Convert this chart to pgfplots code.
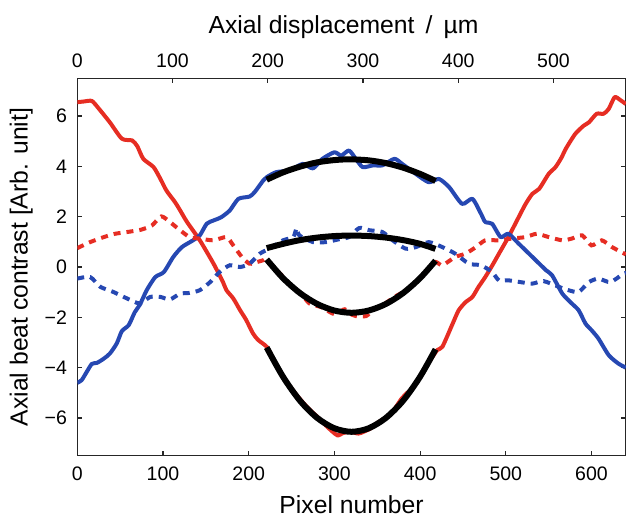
\documentclass[border=0pt]{standalone}
\usepackage{pgfplots}
\pgfplotsset{compat=1.18}
\usepackage{fontspec}
\setmainfont{Liberation Sans}
\definecolor{cred}{RGB}{230,45,35}
\definecolor{cblue}{RGB}{38,72,178}
\newcommand{\tickfont}{\fontsize{9.8}{11}\selectfont}
\newcommand{\labfont}{\fontsize{12.4}{14}\selectfont}
\begin{document}
\begin{tikzpicture}
\pgfplotsset{
  common/.style={
    scale only axis, width=274.25bp, height=188.7bp,
    tick align=inside, major tick length=2.5bp,
    axis line style={line width=0.6bp, black!85},
    every tick/.style={line width=0.6bp, black!85},
    tick label style={font=\tickfont, inner sep=0pt},
    label style={font=\labfont},
  }
}
\begin{axis}[common,
  xmin=0, xmax=640, ymin=-7.5, ymax=7.5,
  xtick={0,100,200,300,400,500,600},
  xticklabels={0,100,200,300,400,500,600},
  ytick={-6,-4,-2,0,2,4,6},
  yticklabels={−6,−4,−2,0,2,4,6},
  xtick pos=left, ytick pos=both,
  xticklabel style={anchor=base, yshift=-12.5bp},
  yticklabel style={anchor=east, xshift=-5bp},
  xlabel={Pixel number},
  xlabel style={at={(axis description cs:0.5,0)}, anchor=base, yshift=-28.65bp},
  ylabel={Axial beat contrast [Arb. unit]},
  ylabel style={at={(axis description cs:0,0.5)}, anchor=center, yshift=28bp},
  clip=true,
]
% red solid
\addplot[cred, line width=2bp, smooth, tension=0.4, line join=round] coordinates {
(0,6.55)(8,6.58)(17,6.6)(25,6.3)(38,5.75)(52,5.1)(64,5.03)(70,4.8)(77,4.3)(89,3.97)
(97,3.5)(104,3.04)(114,2.58)(120,2.25)(128,1.79)(143,1.06)(159,0.13)(170,-0.6)(174,-0.92)
(182,-1.25)(190,-1.72)(197,-2.1)(205,-2.64)(211,-2.9)(221,-3.17)(228,-3.6)(235,-4.05)
(245,-4.6)(255,-5.05)(265,-5.45)(272,-5.7)(280,-5.95)(290,-6.3)(298,-6.55)(304,-6.7)
(310,-6.6)(318,-6.55)(328,-6.62)(334,-6.55)(342,-6.42)(350,-6.2)(360,-5.98)(370,-5.65)
(378,-5.25)(385,-5.0)(392,-4.8)(400,-4.35)(410,-3.8)(420,-3.3)(426,-3.17)(438,-2.25)
(445,-1.72)(453,-1.4)(461,-1.19)(468,-0.8)(476,-0.4)(484,0.05)(492,0.53)(503,1.19)
(515,1.98)(523,2.5)(531,2.91)(539,3.11)(550,3.7)(558,3.97)(565,4.35)(570,4.7)(581,5.29)
(591,5.62)(597,5.75)(606,6.09)(614,6.09)(620,6.28)(627,6.75)(633,6.65)(640,6.48)
};
% blue solid
\addplot[cblue, line width=2bp, smooth, tension=0.4, line join=round] coordinates {
(0,-4.6)(5,-4.5)(11,-4.17)(17,-3.85)(23,-3.81)(31,-3.64)(38,-3.44)(46,-3.04)(52,-2.55)
(60,-2.31)(67,-1.8)(73,-1.5)(81,-0.92)(91,-0.4)(101,-0.2)(112,0.4)(122,0.79)(135,1.06)
(143,1.26)(151,1.72)(159,1.85)(168,1.98)(178,2.25)(188,2.71)(201,2.8)(207,2.98)(217,3.44)
(221,3.57)(232,3.77)(248,3.84)(263,4.1)(275,3.92)(286,4.3)(300,4.56)(308,4.43)(317,4.63)
(325,4.3)(333,3.97)(345,4.04)(356,4.04)(370,4.3)(379,4.1)(395,3.7)(410,3.37)(422,3.5)
(434,3.17)(449,2.51)(461,2.71)(471,2.12)(476,1.79)(484,1.72)(494,1.19)(503,1.32)(515,0.93)
(531,0.4)(547,-0.13)(554,-0.33)(566,-1.06)(577,-1.45)(585,-1.72)(593,-2.25)(600,-2.51)
(608,-2.84)(620,-3.5)(631,-3.83)(640,-4.0)
};
% red dotted
\addplot[cred, line width=2bp, smooth, tension=0.4, dash pattern=on 3.5bp off 3bp] coordinates {
(0,0.75)(15,0.99)(31,1.19)(44,1.32)(58,1.39)(74,1.48)(87,1.65)(98,2.01)(108,1.79)(120,1.46)
(131,1.19)(143,1.13)(159,1.06)(174,1.19)(182,0.86)(192,0.4)(201,0.13)(210,0.2)(217,0.27)
(221,0.3)(235,-0.2)(250,-0.75)(262,-1.1)(271,-1.45)(285,-1.6)(298,-1.85)(305,-1.8)
(312,-1.68)(318,-1.85)(325,-1.95)(337,-1.95)(345,-1.7)(355,-1.55)(370,-1.19)(385,-0.9)
(400,-0.45)(410,-0.1)(418,0.2)(426,0.07)(441,0.4)(453,0.53)(465,0.79)(476,1.06)(492,1.06)
(507,1.13)(523,1.19)(536,1.32)(550,1.19)(566,1.06)(577,1.13)(589,1.26)(600,0.86)(612,1.06)
(624,0.79)(640,0.5)
};
% blue dotted
\addplot[cblue, line width=2bp, smooth, tension=0.4, dash pattern=on 3.5bp off 3bp] coordinates {
(0,-0.46)(15,-0.4)(27,-0.79)(42,-0.99)(58,-1.25)(73,-1.45)(85,-1.19)(97,-1.19)(108,-1.29)
(120,-1.06)(131,-1.03)(143,-0.92)(155,-0.6)(166,-0.2)(178,0.07)(190,0.0)(201,0.13)(213,0.53)
(224,0.73)(240,1.06)(252,1.19)(256,1.55)(259,1.26)(275,0.99)(290,0.99)(305,1.1)(317,1.19)
(329,1.55)(341,1.46)(356,1.39)(368,1.06)(383,0.73)(395,0.79)(410,0.99)(426,0.79)(441,0.53)
(457,0.13)(471,0.07)(484,-0.2)(492,-0.53)(503,-0.53)(517,-0.6)(531,-0.66)(544,-0.56)
(562,-0.79)(573,-0.92)(585,-0.99)(597,-0.6)(608,-0.46)(622,-0.6)(637,-0.27)(640,-0.25)
};
% fits
\addplot[black, line width=3bp, smooth] coordinates {
(221,3.47)(240,3.76)(260,3.99)(280,4.16)(300,4.25)(318,4.28)(340,4.24)(360,4.13)(380,3.95)(400,3.70)(418,3.42)
};
\addplot[black, line width=3bp, smooth] coordinates {
(221,0.75)(240,0.92)(260,1.07)(280,1.17)(300,1.23)(320,1.25)(340,1.23)(360,1.17)(380,1.07)(400,0.92)(418,0.72)
};
\addplot[black, line width=3bp, smooth] coordinates {
(221,0.30)(240,-0.44)(260,-1.04)(280,-1.47)(300,-1.73)(320,-1.82)(340,-1.73)(360,-1.47)(380,-1.04)(400,-0.44)(418,0.25)
};
\addplot[black, line width=3bp, smooth] coordinates {
(221,-3.20)(240,-4.36)(260,-5.32)(280,-6.0)(300,-6.41)(320,-6.55)(340,-6.41)(360,-6.0)(380,-5.32)(400,-4.36)(418,-3.27)
};
\end{axis}
\begin{axis}[common,
  xmin=0, xmax=576, ymin=-7.5, ymax=7.5,
  axis x line*=top, axis y line=none,
  xtick={0,100,200,300,400,500},
  xticklabels={0,100,200,300,400,500},
  xticklabel style={anchor=base, yshift=5.65bp},
  xlabel={Axial displacement\hspace{0.45em}/\hspace{0.45em}µm},
  xlabel style={at={(axis description cs:0.5,1)}, anchor=base, yshift=22.65bp, xshift=-4bp},
]
\end{axis}
\pgfresetboundingbox
\useasboundingbox (-38.65bp,-30.65bp) rectangle (274.85bp,227.85bp);
\end{tikzpicture}
\end{document}
